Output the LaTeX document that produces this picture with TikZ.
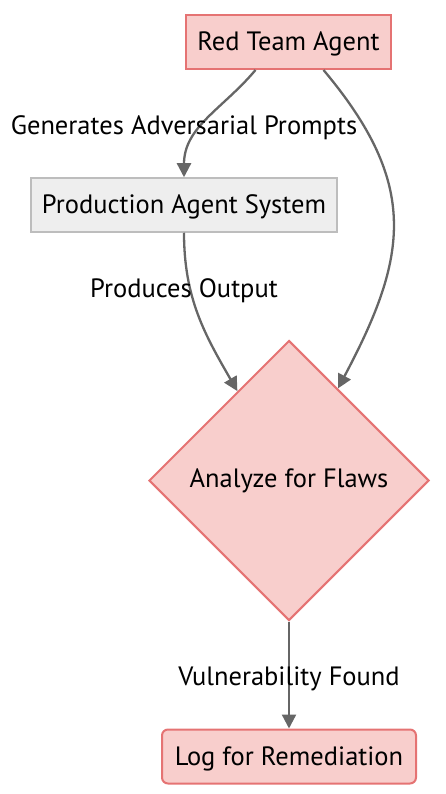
\documentclass[tikz,border=0pt]{standalone}
\usepackage{fontspec}
\setmainfont{PT Sans}
\usetikzlibrary{arrows.meta, shapes.geometric}
\definecolor{Red20}{HTML}{F8CECC}
\definecolor{RedLine}{HTML}{E57373}
\definecolor{Gray10}{HTML}{EEEEEE}
\definecolor{GrayLine}{HTML}{BDBDBD}
\definecolor{EdgeGray}{HTML}{666666}

\begin{document}
\begin{tikzpicture}[
    x=1pt, y=1pt,
    red box/.style={rectangle, fill=Red20, draw=RedLine, line width=2pt, minimum height=54pt, inner sep=0pt, text depth=1pt},
    gray box/.style={rectangle, fill=Gray10, draw=GrayLine, line width=1.5pt, minimum height=54pt, inner sep=0pt, text depth=1pt},
    flaw diamond/.style={diamond, aspect=1, fill=Red20, draw=RedLine, line width=2pt, minimum width=280pt, minimum height=280pt, inner sep=0pt},
    flow/.style={draw=EdgeGray, line width=2.3pt, -{Triangle[length=14pt, width=14pt]}},
    font=\fontsize{26.5}{30}\selectfont
    ]
    \useasboundingbox (0,0) rectangle (446,-794);

    % agents
    \node [red box, minimum width=205pt] (redteam) at (288.5,-42) {Red Team Agent};
    \node [gray box, minimum width=306pt] (prodsys) at (184,-205) {Production Agent System};

    % decision and result
    \node [flaw diamond] (analyze) at (289,-480.5) {Analyze for Flaws};
    \node [red box, rounded corners=6pt, minimum width=254pt] (logfix) at (289,-756.5) {Log for Remediation};

    % connectors
    \draw [flow] ([xshift=-33pt]redteam.south) to[out=-130, in=90] (prodsys.north);
    \draw [flow] ([xshift=35pt]redteam.south) to[out=-50, in=62, looseness=1.2] (analyze);
    \draw [flow] (prodsys.south) to[out=-90, in=120] (analyze);
    \draw [flow] (analyze.south) -- (logfix.north);

    % connector labels
    \node (genlabel) at (184,-128) {Generates Adversarial Prompts};
    \node (outlabel) at (184,-291) {Produces Output};
    \node (vulnlabel) at (289,-679) {Vulnerability Found};
\end{tikzpicture}
\end{document}
